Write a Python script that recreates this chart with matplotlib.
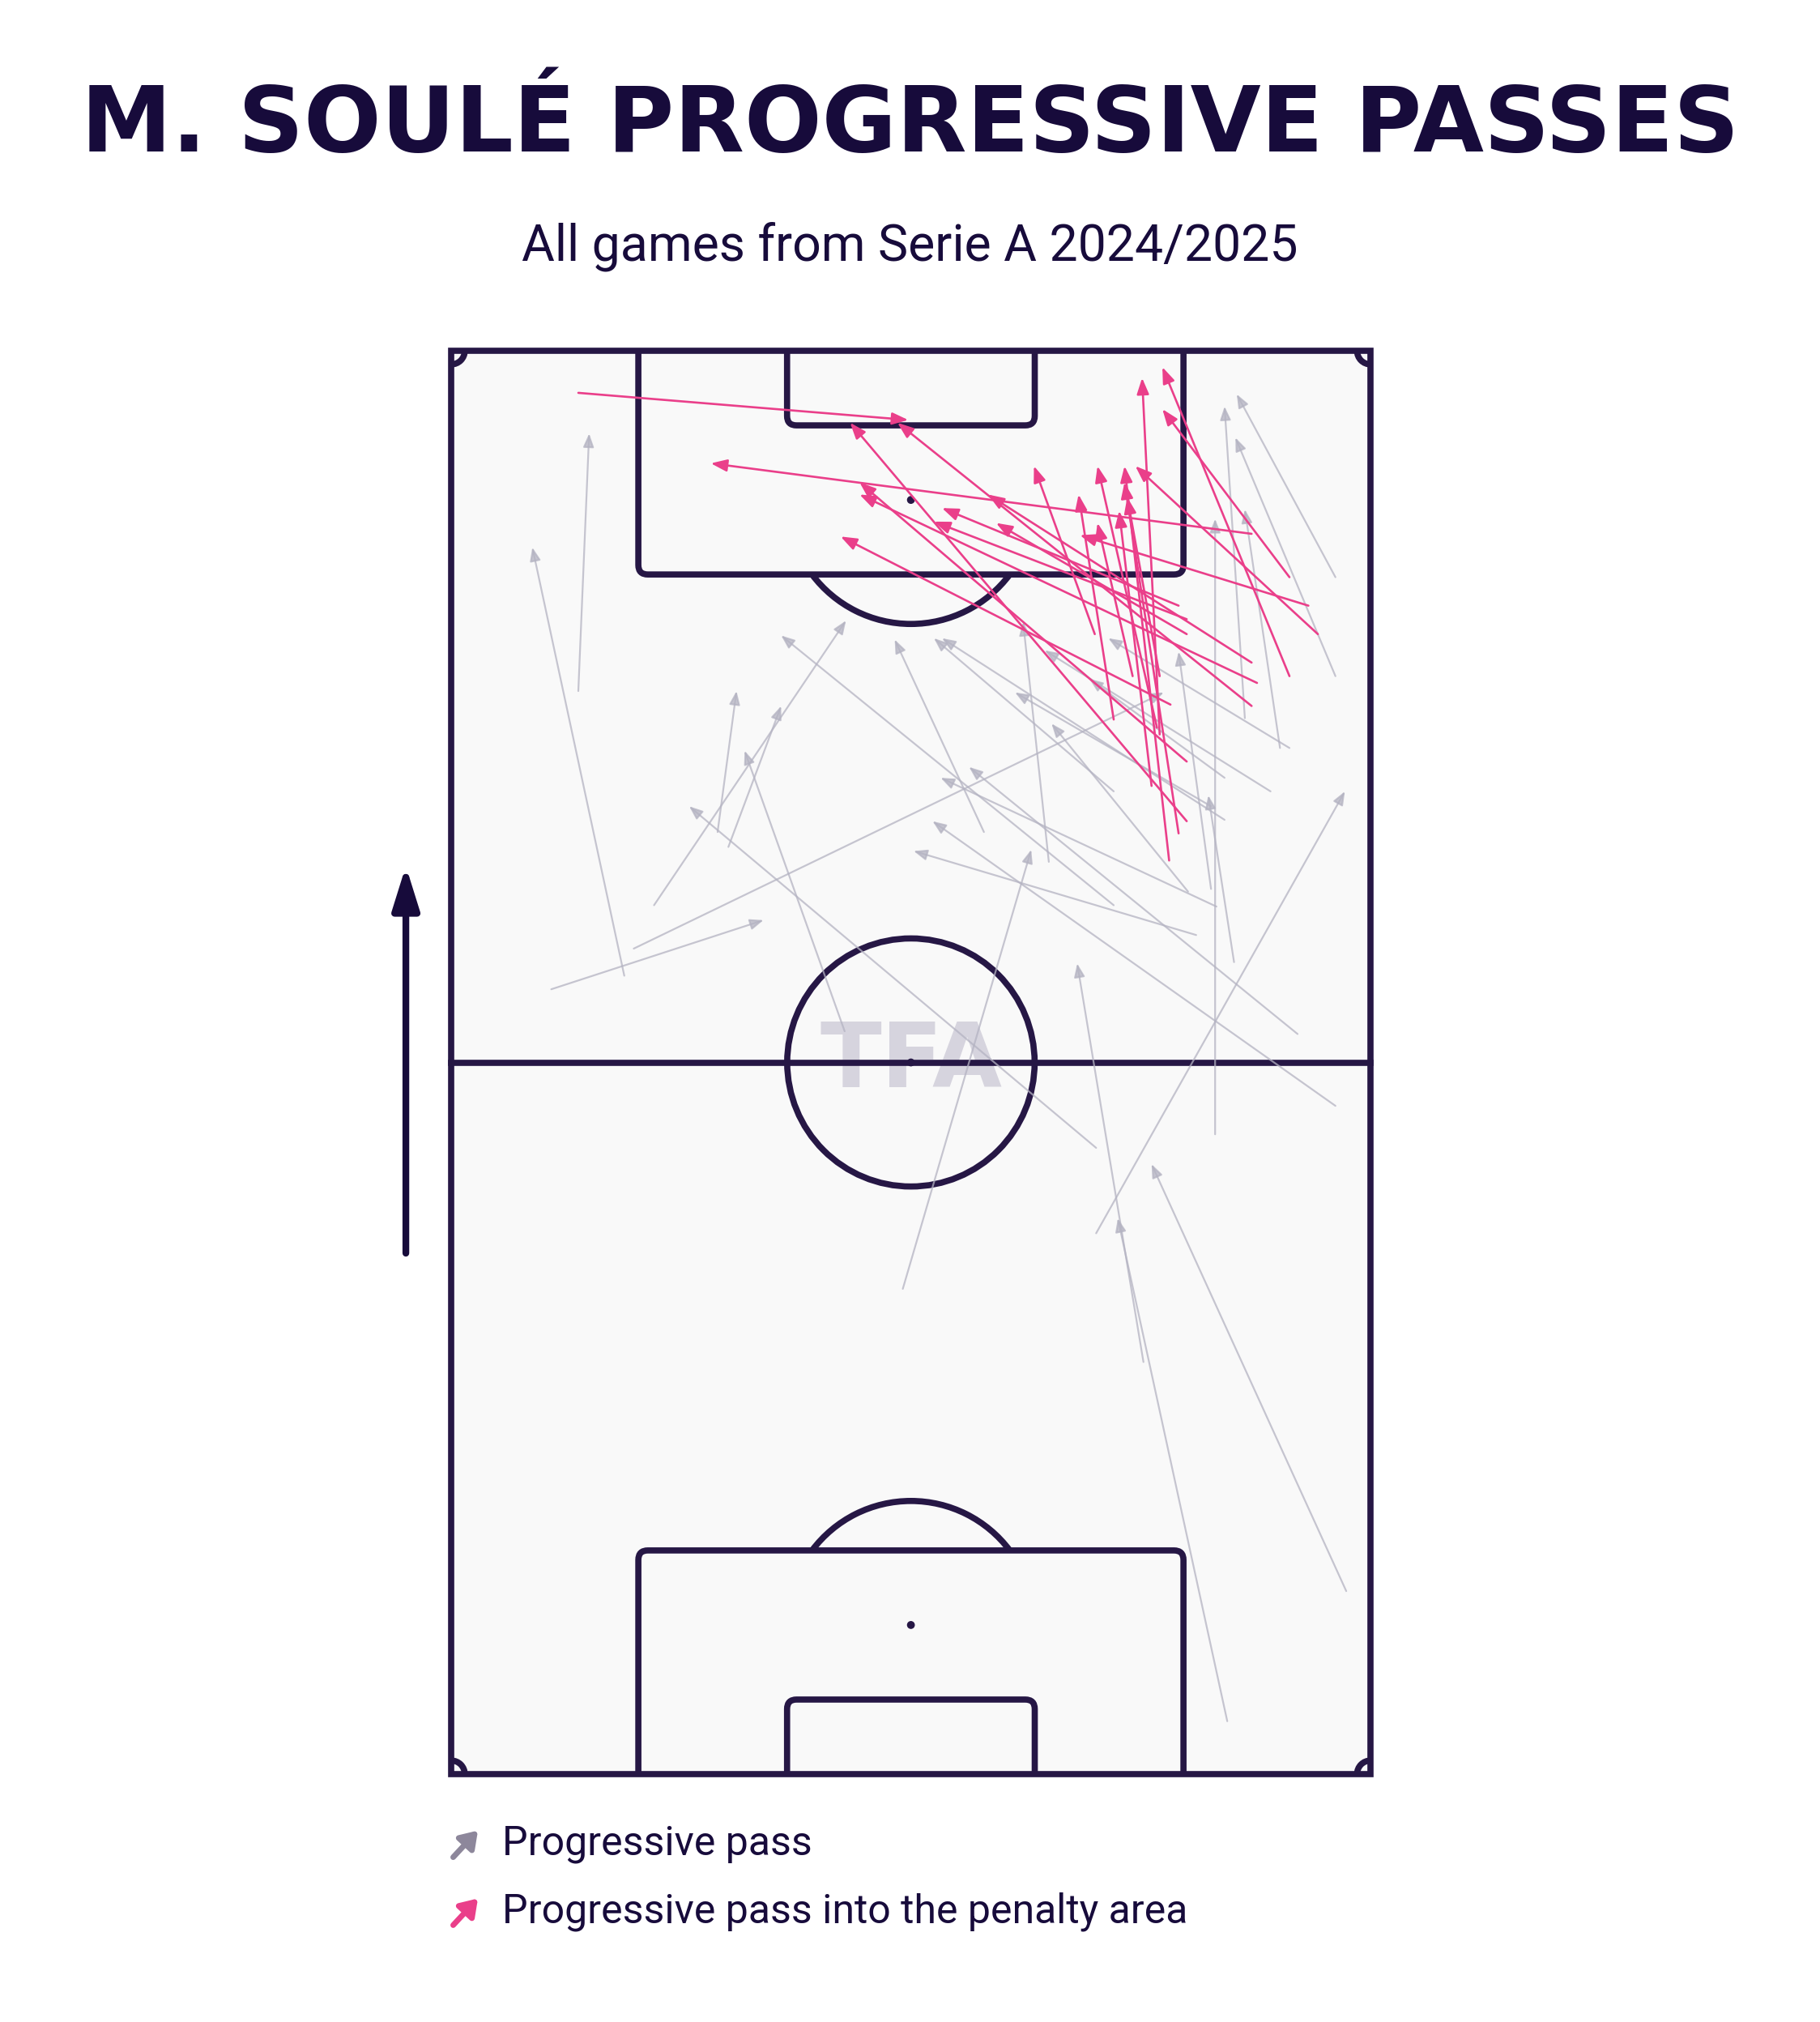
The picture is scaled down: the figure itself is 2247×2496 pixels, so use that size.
import matplotlib
matplotlib.use("Agg")
import matplotlib.pyplot as plt
from matplotlib.patches import Rectangle, Circle, Arc, FancyBboxPatch, FancyArrowPatch

# pass coordinates in metres: x across the pitch (0-68), y towards the attacked goal (0-105)
pink_x0 = [9.4, 59.2, 54.4, 59.2, 54.4, 59.6, 53.2, 54.4, 53.8, 59.2, 54.4, 47.6,
           49.0, 63.4, 52.2, 50.4, 51.8, 53.1, 53.8, 52.4, 64.1, 52.4, 62.0, 62.0]
pink_y0 = [101.9, 91.5, 70.3, 78.8, 74.7, 80.5, 78.9, 85.2, 86.2, 82.0, 84.1, 84.1,
           77.8, 86.2, 77.2, 81.0, 72.9, 67.4, 69.4, 81.0, 84.1, 76.7, 81.0, 88.3]
pink_x1 = [33.8, 19.2, 29.5, 33.0, 30.2, 30.2, 28.8, 35.7, 36.3, 39.7, 40.3, 43.1,
           46.4, 46.5, 47.8, 47.8, 49.4, 49.8, 49.8, 50.0, 50.6, 51.1, 52.6, 52.6]
pink_y1 = [99.9, 96.7, 99.7, 99.7, 95.3, 94.4, 91.3, 92.4, 93.4, 94.4, 92.3, 96.5,
           94.4, 91.4, 96.5, 92.3, 93.2, 96.5, 95.3, 94.2, 96.5, 103.0, 103.8, 100.7]

gray_x0 = [9.4, 12.8, 7.4, 13.5, 15.0, 19.7, 20.5, 29.1, 47.7, 33.4, 47.7, 56.5,
           51.2, 57.4, 66.2, 62.6, 65.4, 55.1, 56.6, 54.5, 49.0, 57.9, 44.2, 39.4,
           65.4, 65.4, 58.7, 61.3, 56.2, 62.0, 60.6, 57.2, 56.2, 49.0, 57.2]
gray_y0 = [79.9, 58.9, 57.9, 60.9, 64.1, 69.5, 68.4, 54.8, 46.2, 35.8, 39.9, 47.2,
           30.4, 3.9, 13.5, 54.6, 49.3, 61.9, 64.0, 65.1, 64.1, 59.9, 67.3, 69.5,
           88.3, 81.0, 77.9, 75.7, 65.3, 75.7, 72.5, 73.5, 71.4, 72.5, 70.4]
gray_x1 = [10.2, 6.0, 23.1, 52.7, 29.2, 21.1, 24.4, 21.7, 17.6, 42.9, 66.1, 56.5,
           46.3, 49.3, 51.8, 38.3, 35.6, 34.2, 36.2, 44.4, 24.4, 56.0, 42.3, 32.8,
           58.1, 58.0, 57.2, 58.7, 53.8, 48.6, 43.9, 47.2, 41.7, 35.7, 36.3]
gray_y1 = [98.9, 90.5, 63.0, 79.8, 85.1, 79.9, 78.8, 75.5, 71.4, 68.2, 72.5, 92.6,
           59.8, 41.0, 45.0, 74.3, 70.3, 68.1, 73.5, 77.5, 84.0, 72.2, 85.0, 83.7,
           101.8, 98.6, 100.9, 93.3, 82.8, 83.8, 82.9, 80.8, 79.8, 83.8, 83.8]

title = "M. SOULÉ PROGRESSIVE PASSES"
subtitle = "All games from Serie A 2024/2025"
legend_labels = ["Progressive pass", "Progressive pass into the penalty area"]

navy = "#170b3b"
line_col = "#261745"
pink = "#ea3f8a"
gray = "#b4b3c2"

fig = plt.figure(figsize=(22.47, 24.96), dpi=100)
fig.patch.set_facecolor("white")

ax = fig.add_axes([0.2405, 0.1159, 0.5200, 0.7173])
ax.set_xlim(-1, 69)
ax.set_ylim(-1, 106)
ax.axis("off")

# pitch
lw = 5.5
border = Rectangle((0, 0), 68, 105, facecolor="#f9f9f9", edgecolor=line_col, lw=lw, zorder=1)
ax.add_patch(border)
ax.plot([0, 68], [52.5, 52.5], color=line_col, lw=lw, zorder=2)
ax.add_patch(Circle((34, 52.5), 9.15, fill=False, ec=line_col, lw=lw, zorder=2))
ax.add_patch(Circle((34, 52.5), 0.25, color=line_col, zorder=2))

boxes = [(13.84, 88.5, 40.32, 20), (13.84, -3.5, 40.32, 20),
         (24.84, 99.5, 18.32, 10), (24.84, -4.5, 18.32, 10)]
for bx, by, bw, bh in boxes:
    p = FancyBboxPatch((bx, by), bw, bh, boxstyle="round,pad=0,rounding_size=0.7",
                       fill=False, ec=line_col, lw=lw, zorder=2)
    ax.add_patch(p)
    p.set_clip_path(border)

for sy in [94, 11]:
    ax.add_patch(Circle((34, sy), 0.25, color=line_col, zorder=2))
ax.add_patch(Arc((34, 94), 18.3, 18.3, theta1=216.9, theta2=323.1, ec=line_col, lw=lw, zorder=2))
ax.add_patch(Arc((34, 11), 18.3, 18.3, theta1=36.9, theta2=143.1, ec=line_col, lw=lw, zorder=2))

corners = [(0, 0, 0, 90), (68, 0, 90, 180), (68, 105, 180, 270), (0, 105, 270, 360)]
for cx, cy, t1, t2 in corners:
    ax.add_patch(Arc((cx, cy), 2, 2, theta1=t1, theta2=t2, ec=line_col, lw=lw, zorder=2))

# watermark sits under the pitch lines
ax.text(34, 52.5, "TFA", ha="center", va="center", fontsize=80, fontweight="bold",
        color="#d6d4de", zorder=1.5)

# passes
for x0, y0, x1, y1 in zip(gray_x0, gray_y0, gray_x1, gray_y1):
    ax.add_patch(FancyArrowPatch((x0, y0), (x1, y1),
                                 arrowstyle="-|>,head_length=1.0,head_width=0.4",
                                 mutation_scale=10, lw=1.6, color=gray, alpha=0.75,
                                 shrinkA=0, shrinkB=0, zorder=3))

for x0, y0, x1, y1 in zip(pink_x0, pink_y0, pink_x1, pink_y1):
    ax.add_patch(FancyArrowPatch((x0, y0), (x1, y1),
                                 arrowstyle="-|>,head_length=1.2,head_width=0.45",
                                 mutation_scale=10, lw=1.9, color=pink,
                                 shrinkA=0, shrinkB=0, zorder=4))

# direction of play arrow
fig.add_artist(FancyArrowPatch((0.2230, 0.3802), (0.2230, 0.5717), transform=fig.transFigure,
                               arrowstyle="-|>,head_length=3.2,head_width=1.0",
                               mutation_scale=10, lw=6, color=navy, capstyle="round",
                               shrinkA=0, shrinkB=0))

# titles
fig.text(0.5, 0.9375, title, ha="center", va="center", fontsize=81, fontweight="bold",
         family=["DejaVu Sans"], color=navy)
fig.text(0.5, 0.8782, subtitle, ha="center", va="center", fontsize=45,
         family=["Roboto", "DejaVu Sans"], color=navy)

# legend
for (lab, col), yy in zip(zip(legend_labels, ["#8d879b", pink]), [0.0881, 0.0545]):
    fig.add_artist(FancyArrowPatch((0.2490, yy - 0.0066), (0.2626, yy + 0.0066),
                                   transform=fig.transFigure,
                                   arrowstyle="-|>,head_length=1.2,head_width=0.8",
                                   mutation_scale=10, lw=5, color=col, capstyle="round",
                                   shrinkA=0, shrinkB=0))
    fig.text(0.2759, yy, lab, ha="left", va="center", fontsize=36,
             family=["Roboto", "DejaVu Sans"], color=navy)

fig.savefig("out.png", dpi=100)
